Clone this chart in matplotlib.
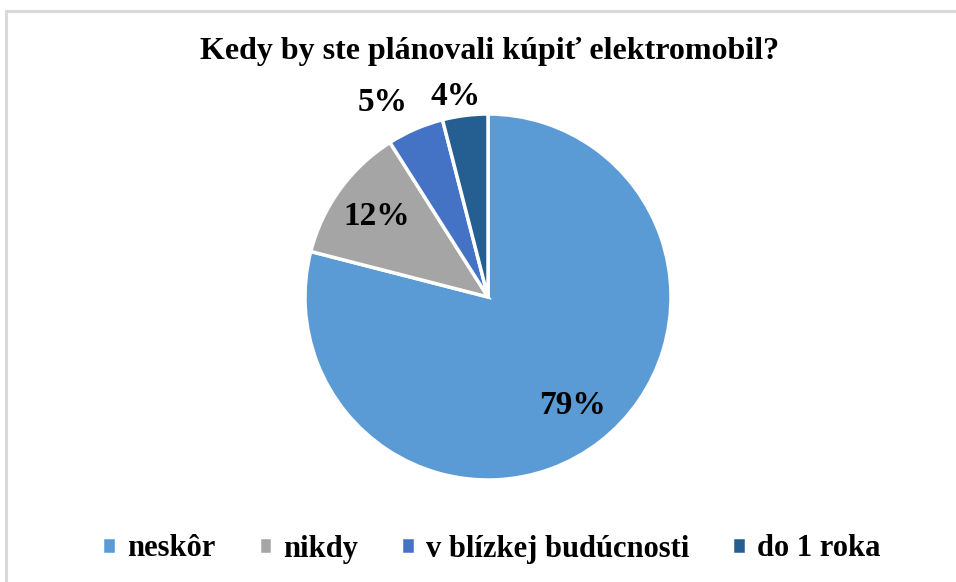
import matplotlib
matplotlib.use("Agg")
import matplotlib.pyplot as plt
from matplotlib.patches import Rectangle
import numpy as np

categories = ["neskôr", "nikdy", "v blízkej budúcnosti", "do 1 roka"]
values = [79, 12, 5, 4]
colors = ["#5B9BD5", "#A5A5A5", "#4472C4", "#255E91"]
title = "Kedy by ste plánovali kúpiť elektromobil?"

plt.rcParams['font.family'] = ['Liberation Serif', 'DejaVu Serif']

fig = plt.figure(figsize=(9.56, 5.82), dpi=100)
W, H = 956, 582
# chart frame (top and left edges visible)
fig.patches.append(Rectangle((6 / W, -0.1), 1.2, 1 - 11 / H + 0.1, transform=fig.transFigure,
                             fill=False, edgecolor="#D9D9D9", linewidth=2.2))

cx, cy, r = 488, 297, 183
ax = fig.add_axes([(cx - r) / W, (H - cy - r) / H, 2 * r / W, 2 * r / H])
wedges, texts, autotexts = ax.pie(values, colors=colors, startangle=90, counterclock=False,
                                  autopct=lambda p: f"{p:.0f}%", pctdistance=0.75,
                                  wedgeprops=dict(edgecolor="white", linewidth=2.5),
                                  textprops=dict(fontsize=24, fontweight="bold", color="black"))
ax.set_xlim(-1, 1)
ax.set_ylim(-1, 1)
ax.set_aspect("equal")
ax.axis("off")

# move small-slice labels outside
outside = {2: (1.21, 5), 3: (1.11, 2)}
for i, (dist, shift) in outside.items():
    w = wedges[i]
    ang = np.deg2rad((w.theta1 + w.theta2) / 2 + shift)
    autotexts[i].set_position((dist * np.cos(ang), dist * np.sin(ang)))

fig.text(490 / W, 1 - 52 / H, title, ha="center", va="center", fontsize=23, fontweight="bold")

leg = fig.legend(wedges, categories, loc="center", bbox_to_anchor=(0.514, 1 - 549 / H), ncol=4,
                 frameon=False, prop=dict(size=22, weight="bold"), handlelength=0.45,
                 handleheight=0.45, handletextpad=0.35, columnspacing=1.42)

fig.savefig("out.png", dpi=100)
